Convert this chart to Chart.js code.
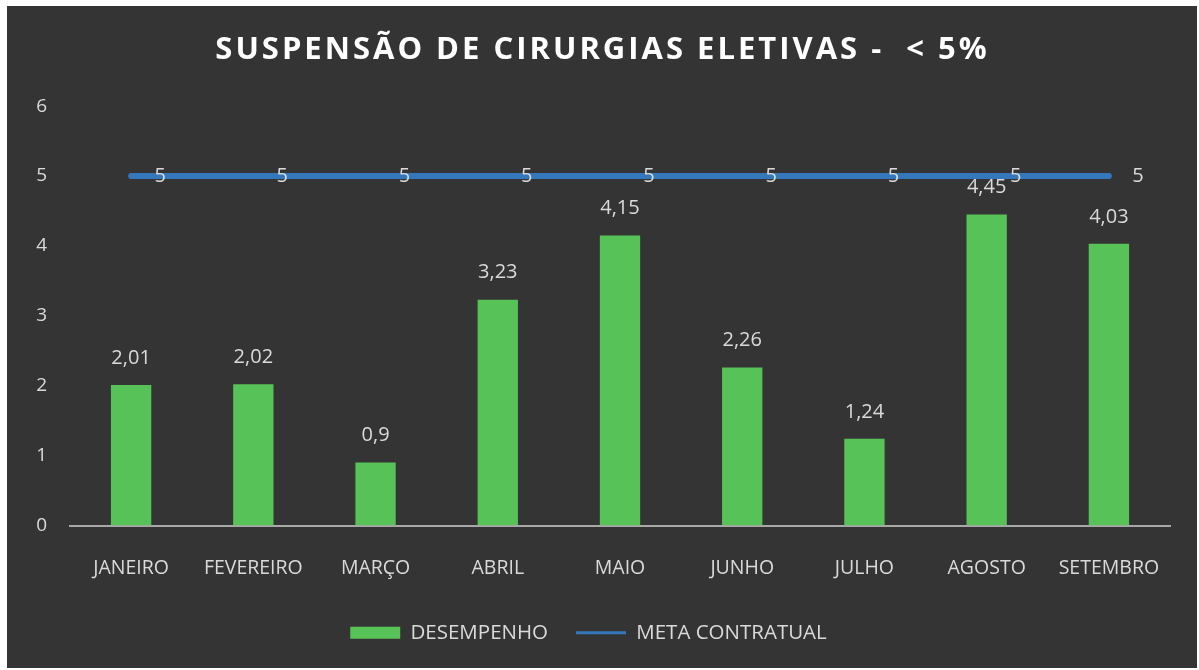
<!DOCTYPE html>
<html>
<head>
<meta charset="utf-8">
<script src="https://cdn.jsdelivr.net/npm/chart.js@4.4.1/dist/chart.umd.min.js"></script>
<style>
  html, body { margin: 0; padding: 0; background: #fff; }
  #frame {
    position: absolute; left: 7px; top: 6px; width: 1190px; height: 662px;
    background: #343434;
  }
</style>
</head>
<body>
<div id="frame"><canvas id="chart" width="1190" height="662"></canvas></div>
<script>
const months = ['JANEIRO', 'FEVEREIRO', 'MARÇO', 'ABRIL', 'MAIO', 'JUNHO', 'JULHO', 'AGOSTO', 'SETEMBRO'];
const desempenho = [2.01, 2.02, 0.9, 3.23, 4.15, 2.26, 1.24, 4.45, 4.03];
const meta = [5, 5, 5, 5, 5, 5, 5, 5, 5];
const yTicks = [0, 1, 2, 3, 4, 5, 6];

const FONT = "'Open Sans', sans-serif";
const TEXT = '#dadada';

// formats 2.01 -> "2,01"
function fmt(v) {
  return String(v).replace('.', ',');
}

// value labels above the bars and right of the target line points
const valueLabels = {
  id: 'valueLabels',
  beforeDraw(chart) {
    // spaced-out title like the original
    const tb = chart.titleBlock;
    if (tb && !tb._spaced) {
      const orig = tb.draw;
      tb.draw = function () {
        const ctx = chart.ctx;
        ctx.save();
        ctx.translate(14, 0);
        ctx.letterSpacing = '3px';
        orig.call(this);
        ctx.restore();
        ctx.letterSpacing = '0px';
      };
      tb._spaced = true;
    }
  },
  afterDatasetsDraw(chart) {
    const ctx = chart.ctx;
    ctx.save();
    ctx.font = '20px ' + FONT;
    ctx.fillStyle = TEXT;
    ctx.textBaseline = 'middle';
    ctx.textAlign = 'center';
    chart.getDatasetMeta(0).data.forEach((bar, i) => {
      ctx.fillText(fmt(desempenho[i]), bar.x, bar.y - 27);
    });
    chart.getDatasetMeta(1).data.forEach((pt, i) => {
      ctx.fillText(fmt(meta[i]), pt.x + 29, pt.y);
    });
    ctx.restore();
  }
};

new Chart(document.getElementById('chart'), {
  type: 'bar',
  data: {
    labels: months,
    datasets: [{
      type: 'bar',
      label: 'DESEMPENHO',
      data: desempenho,
      backgroundColor: '#57c257',
      borderWidth: 0,
      barPercentage: 0.33,
      categoryPercentage: 1,
      pointStyle: 'rect',
      order: 2
    }, {
      type: 'line',
      label: 'META CONTRATUAL',
      data: meta,
      borderColor: '#3478bb',
      backgroundColor: '#3478bb',
      borderWidth: 6,
      borderCapStyle: 'round',
      pointRadius: 0,
      pointStyle: 'line',
      order: 1
    }]
  },
  options: {
    responsive: false,
    animation: false,
    layout: { padding: { left: 0, right: 27, top: 0, bottom: 15 } },
    plugins: {
      title: {
        display: true,
        text: 'SUSPENSÃO DE CIRURGIAS ELETIVAS -  < 5%',
        color: '#ffffff',
        font: { family: FONT, size: 31, weight: 'bold' },
        padding: { top: 26, bottom: 37 }
      },
      legend: {
        position: 'bottom',
        labels: {
          color: TEXT,
          font: { family: FONT, size: 20.5 },
          usePointStyle: true,
          pointStyleWidth: 50,
          boxHeight: 12,
          padding: 28,
          generateLabels(chart) {
            const items = Chart.defaults.plugins.legend.labels.generateLabels(chart);
            items.forEach(it => { if (it.datasetIndex === 1) it.lineWidth = 3; });
            return items.sort((a, b) => a.datasetIndex - b.datasetIndex);
          }
        }
      },
      tooltip: { enabled: false }
    },
    scales: {
      x: {
        grid: { display: false },
        border: { display: true, color: '#a8a8a8', width: 2 },
        afterFit(scale) { scale.height = 69; },
        ticks: { color: TEXT, font: { family: FONT, size: 19.5 }, padding: 23 }
      },
      y: {
        min: 0,
        max: 6,
        afterBuildTicks(scale) { scale.ticks = yTicks.map(v => ({ value: v })); },
        afterFit(scale) { scale.width = 63; },
        grid: { display: false },
        border: { display: false },
        ticks: { color: TEXT, font: { family: FONT, size: 19 }, padding: 15 }
      }
    }
  },
  plugins: [valueLabels]
});
</script>
</body>
</html>
